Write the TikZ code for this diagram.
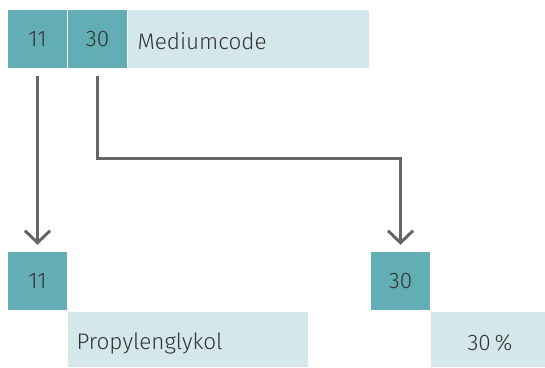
\documentclass[tikz,border=0pt]{standalone}
\usepackage{fontspec}
\setmainfont{Fira Sans Light}
\usetikzlibrary{arrows.meta}
\definecolor{tealdark}{HTML}{63ADB5}
\definecolor{teallight}{HTML}{D4E7EB}
\definecolor{linegray}{HTML}{666666}
\definecolor{textgray}{HTML}{333333}

\begin{document}
\begin{tikzpicture}[x=1pt,y=-1pt,
  box/.style={inner sep=0pt,minimum height=58pt,text=textgray,
    font=\fontsize{22.5}{26}\selectfont},
  codebox/.style={box,fill=tealdark,minimum width=59pt},
  textbox/.style={box,fill=teallight,anchor=west},
  label/.style={text=textgray,font=\fontsize{22.5}{26}\selectfont},
  link/.style={draw=linegray,line width=3pt,
    -{Straight Barb[length=12pt,width=25pt,line width=3pt]},
    shorten <=8pt,shorten >=7pt}]
  \useasboundingbox (0,0) rectangle (545,367);
  % key: code pair and medium code
  \node[codebox] (keyA) at (37.5,39) {11};
  \node[codebox] (keyB) at (97.5,39) {30};
  \node[textbox,minimum width=241pt] (keyname) at (128,39) {};
  \node[label,anchor=west] (keylabel) at (134,41) {Mediumcode};
  % decoded fields
  \node[codebox] (valA) at (37.5,281) {11};
  \node[textbox,minimum width=240pt,minimum height=55pt] (nameA) at (68,339.5) {};
  \node[label,anchor=west] (labelA) at (73,343) {Propylenglykol};
  \node[codebox] (valB) at (400.5,281) {30};
  \node[box,fill=teallight,minimum width=114pt,minimum height=55pt] (nameB) at (488,339.5) {};
  \node[label] (labelB) at (490,343) {30\,\%};
  % connectors
  \draw[link] (keyA.south) -- (valA.north);
  \draw[link] (keyB.south) -- ++(0,90) -| (valB.north);
\end{tikzpicture}
\end{document}
